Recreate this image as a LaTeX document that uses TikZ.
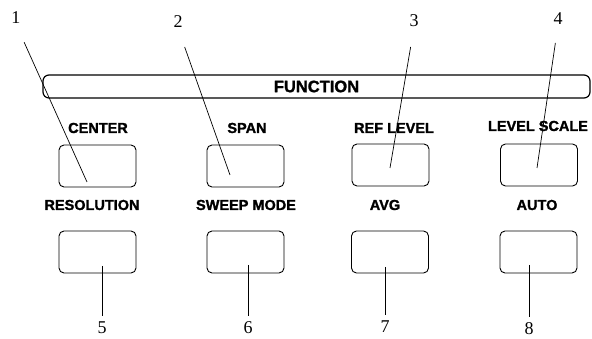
\documentclass[tikz,border=0pt]{standalone}
\usepackage{fontspec}
\setmainfont{Liberation Serif}
\newfontfamily\keyfont[FakeBold=1.5]{Liberation Sans}

\begin{document}
\begin{tikzpicture}[x=1pt,y=-1pt,
    key/.style={draw,line width=0.9pt,rounded corners=5pt,minimum width=77pt,minimum height=42pt,inner sep=0pt},
    keytext/.style={font=\keyfont\bfseries\fontsize{14.5}{16}\selectfont,inner sep=0pt},
    num/.style={font=\fontsize{18}{20}\selectfont,inner sep=0pt},
    leader/.style={line width=0.7pt}]
    \useasboundingbox (0,0) rectangle (592,339);
    \node [draw,line width=1.2pt,rounded corners=6pt,minimum width=547pt,minimum height=23pt,inner sep=0pt,
           font=\keyfont\bfseries\fontsize{16.5}{18}\selectfont] (panel) at (316.5,86.5) {FUNCTION};

    % upper row of keys
    \node [key] (center) at (97.5,166) {};
    \node [key] (span) at (245.5,166) {};
    \node [key] (reflevel) at (390.5,165) {};
    \node [key] (levelscale) at (539,165) {};
    \node [keytext] at (98,128) {CENTER};
    \node [keytext] at (247,128) {SPAN};
    \node [keytext] at (394,128) {REF LEVEL};
    \node [keytext] at (538,126) {LEVEL SCALE};

    % lower row of keys
    \node [key] (resolution) at (97.5,252) {};
    \node [key] (sweepmode) at (245.5,252) {};
    \node [key] (avg) at (390,252) {};
    \node [key] (auto) at (538.5,252) {};
    \node [keytext] at (92,205) {RESOLUTION};
    \node [keytext] at (246,205) {SWEEP MODE};
    \node [keytext] at (385,205) {AVG};
    \node [keytext] at (537,205) {AUTO};

    \coordinate (p1) at (87,182); \coordinate (p2) at (230,175);
    \coordinate (p3) at (390,168); \coordinate (p4) at (537,168);
    \coordinate (p5) at (102,266); \coordinate (p6) at (248,265);
    \coordinate (p7) at (385,267); \coordinate (p8) at (529,265);

    \node [num] (n1) at (16,18) {1};
    \node [num] (n2) at (178,22) {2};
    \node [num] (n3) at (414,21) {3};
    \node [num] (n4) at (558,19) {4};
    \node [num] (n5) at (102,328) {5};
    \node [num] (n6) at (248,328) {6};
    \node [num] (n7) at (385,327) {7};
    \node [num] (n8) at (529,329) {8};

    \draw [leader,shorten <=20pt] (n1.south) -- (p1);
    \draw [leader,shorten <=20pt] (n2.south) -- (p2);
    \draw [leader,shorten <=20pt] (n3.south) -- (p3);
    \draw [leader,shorten <=18pt] (n4.south) -- (p4);
    \draw [leader,shorten >=6pt] (p5) -- (n5.north);
    \draw [leader,shorten >=6pt] (p6) -- (n6.north);
    \draw [leader,shorten >=6pt] (p7) -- (n7.north);
    \draw [leader,shorten >=6pt] (p8) -- (n8.north);
\end{tikzpicture}
\end{document}
